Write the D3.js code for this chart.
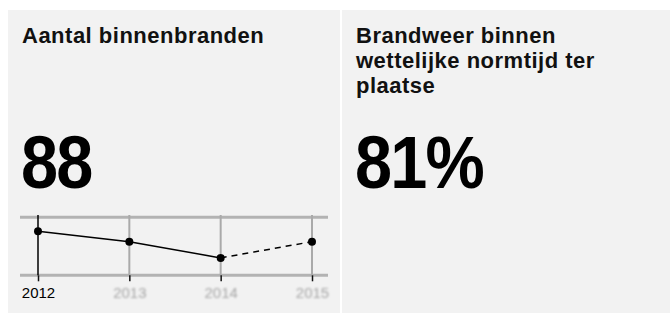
<!DOCTYPE html>
<html>
<head>
<meta charset="utf-8">
<script src="https://cdn.jsdelivr.net/npm/d3@7"></script>
<style>
  body { margin: 0; background: #fff; }
  text { font-family: "Liberation Sans", Arial, Helvetica, sans-serif; }
</style>
</head>
<body>
<svg id="chart" width="671" height="314"></svg>
<script>
// tiles
var tileTitles = [
  ["Aantal binnenbranden"],
  ["Brandweer binnen", "wettelijke normtijd ter", "plaatse"]
];
var tileValues = ["88", "81%"];

// sparkline data
var years = ["2012", "2013", "2014", "2015"];
var fires = [88, 79, 65, 79];
var gridValues = [50, 100];
var selectedYear = "2012";

var svg = d3.select("#chart");

var defs = svg.append("defs");
defs.append("filter")
    .attr("id", "soft")
    .append("feGaussianBlur")
    .attr("stdDeviation", 0.8);

var tileX = [8, 342];
var tileW = 332;

var tiles = svg.selectAll("g.tile")
  .data(tileValues)
  .enter()
  .append("g")
  .attr("class", "tile")
  .attr("transform", function(d, i) { return "translate(" + tileX[i] + ",10)"; });

tiles.append("rect")
  .attr("width", function(d, i) { return i == 0 ? tileW : 671 - tileX[i] - 1; })
  .attr("height", 303)
  .attr("fill", "#f2f2f2");

tiles.each(function(d, i) {
  var g = d3.select(this);
  g.append("text")
    .attr("x", 14)
    .attr("y", 33)
    .style("font-size", "22px")
    .style("font-weight", "bold")
    .style("letter-spacing", "0.5px")
    .attr("fill", "#111")
    .selectAll("tspan")
    .data(tileTitles[i])
    .enter()
    .append("tspan")
    .attr("x", 14)
    .attr("dy", function(t, j) { return j == 0 ? 0 : 25; })
    .text(function(t) { return t; });

  // big number, slightly condensed like the original
  g.append("text")
    .attr("transform", "translate(13,178) scale(0.9,1)")
    .style("font-size", "74px")
    .style("font-weight", "bold")
    .style("letter-spacing", "-2px")
    .attr("fill", "#000")
    .text(d);
});

// sparkline in the first tile
var x = d3.scalePoint()
  .domain(years)
  .range([38, 312]);

var y = d3.scaleLinear()
  .domain(d3.extent(gridValues))
  .range([275.3, 217.3]);

var spark = svg.append("g");

spark.selectAll("line.hgrid")
  .data(gridValues)
  .enter()
  .append("line")
  .attr("class", "hgrid")
  .attr("x1", 20)
  .attr("x2", 328)
  .attr("y1", function(d) { return y(d); })
  .attr("y2", function(d) { return y(d); })
  .attr("stroke", "#b3b3b3")
  .attr("stroke-width", 3);

spark.selectAll("line.vgrid")
  .data(years)
  .enter()
  .append("line")
  .attr("class", "vgrid")
  .attr("x1", function(d) { return x(d); })
  .attr("x2", function(d) { return x(d); })
  .attr("y1", 215)
  .attr("y2", y(gridValues[0]))
  .attr("stroke", function(d) { return d == selectedYear ? "#000" : "#aaa"; })
  .attr("stroke-width", function(d) { return d == selectedYear ? 1.5 : 2; });

var axis = spark.append("g")
  .attr("transform", "translate(0," + y(gridValues[0]) + ")")
  .call(d3.axisBottom(x).tickSize(6).tickPadding(6));

axis.select(".domain").remove();
axis.selectAll(".tick line")
  .attr("stroke", "#111")
  .attr("stroke-width", 1.5);
axis.selectAll(".tick text")
  .style("font-size", "15px")
  .style("font-family", "\"Liberation Sans\", Arial, sans-serif")
  .attr("fill", function(d) { return d == selectedYear ? "#000" : "#a6a6a6"; })
  .attr("filter", function(d) { return d == selectedYear ? null : "url(#soft)"; });

var pts = years.map(function(yr, i) { return [x(yr), y(fires[i])]; });
var line = d3.line();

spark.append("path")
  .attr("d", line(pts.slice(0, 3)))
  .attr("fill", "none")
  .attr("stroke", "#000")
  .attr("stroke-width", 1.5);

spark.append("path")
  .attr("d", line(pts.slice(2)))
  .attr("fill", "none")
  .attr("stroke", "#000")
  .attr("stroke-width", 1.5)
  .attr("stroke-dasharray", "6,5");

spark.selectAll("circle")
  .data(fires)
  .enter()
  .append("circle")
  .attr("cx", function(d, i) { return x(years[i]); })
  .attr("cy", function(d) { return y(d); })
  .attr("r", 4)
  .attr("fill", "#000");
</script>
</body>
</html>
